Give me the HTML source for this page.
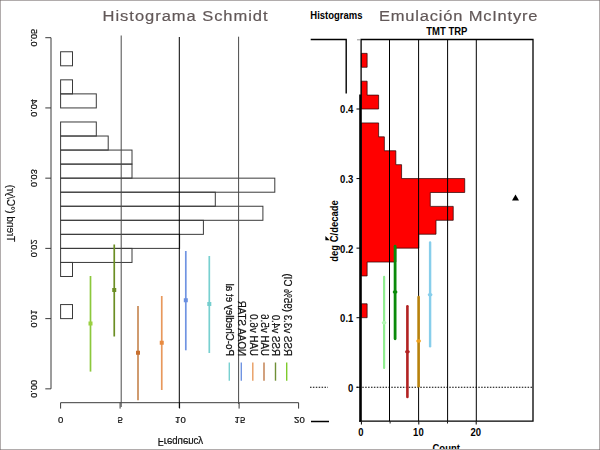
<!DOCTYPE html>
<html><head><meta charset="utf-8"><title>Histograms</title>
<style>
html,body{margin:0;padding:0;background:#fff;}
body{width:600px;height:450px;overflow:hidden;position:relative;font-family:"Liberation Sans",sans-serif;}
svg{position:absolute;left:0;top:0;display:block;}
text{font-family:"Liberation Sans",sans-serif;}
.l{font-size:9.6px;fill:#111;stroke:#111;stroke-width:0.22px;}
.lt{font-size:10px;stroke-width:0.15px;}
.rb{font-size:9.5px;font-weight:bold;fill:#000;}
.t{font-size:15px;fill:#625858;stroke:#625858;stroke-width:0.2px;}
#frame{position:absolute;left:0;top:0;width:598px;height:448px;border:1px solid #b1acac;}
.cn{position:absolute;width:1px;height:1px;background:#8c8787;}
</style></head><body>
<svg width="600" height="450" viewBox="0 0 600 450">
<rect width="600" height="450" fill="#fff"/>
<g fill="none" stroke="#3a3a3a" stroke-width="1">
<path d="M45.3 37.70 H51 V388.85 H45.3"/>
<path d="M45.3 318.62 H51"/>
<path d="M45.3 248.39 H51"/>
<path d="M45.3 178.16 H51"/>
<path d="M45.3 107.93 H51"/>
<path d="M60.60 408.6 V402.7 H298.60 V408.6"/>
<path d="M120.10 402.7 V408.6"/>
<path d="M179.60 402.7 V408.6"/>
<path d="M239.10 402.7 V408.6"/>
<rect x="60.60" y="51.75" width="11.90" height="14.05"/>
<rect x="60.60" y="79.84" width="11.90" height="14.05"/>
<rect x="60.60" y="93.88" width="35.70" height="14.05"/>
<rect x="60.60" y="121.98" width="35.70" height="14.05"/>
<rect x="60.60" y="136.02" width="47.60" height="14.05"/>
<rect x="60.60" y="150.07" width="71.40" height="14.05"/>
<rect x="60.60" y="164.11" width="71.40" height="14.05"/>
<rect x="60.60" y="178.16" width="214.20" height="14.05"/>
<rect x="60.60" y="192.21" width="154.70" height="14.05"/>
<rect x="60.60" y="206.25" width="202.30" height="14.05"/>
<rect x="60.60" y="220.30" width="142.80" height="14.05"/>
<rect x="60.60" y="234.34" width="119.00" height="14.05"/>
<rect x="60.60" y="248.39" width="71.40" height="14.05"/>
<rect x="60.60" y="262.44" width="11.90" height="14.05"/>
<rect x="60.60" y="304.57" width="11.90" height="14.05"/>
</g>
<path stroke="#4a4a4a" stroke-width="1" d="M121.20 35.50 V407.00"/>
<path stroke="#000" stroke-width="1" d="M179.30 37.00 V408.00"/>
<path stroke="#4a4a4a" stroke-width="1" d="M238.60 36.70 V404.00"/>
<path d="M90.50 371.60 V276.00" stroke="#8cc83c" stroke-width="1.7"/>
<rect x="88.50" y="321.50" width="4" height="4" fill="#9ad040"/>
<path d="M114.25 336.50 V244.50" stroke="#6b8e23" stroke-width="1.7"/>
<rect x="112.25" y="288.00" width="4" height="4" fill="#6b8e23"/>
<path d="M138.00 400.20 V306.00" stroke="#c88a56" stroke-width="1.7"/>
<rect x="136.00" y="350.75" width="4" height="4" fill="#c87030"/>
<path d="M161.75 390.00 V296.00" stroke="#e8985c" stroke-width="1.7"/>
<rect x="159.75" y="340.75" width="4" height="4" fill="#e88a40"/>
<path d="M185.80 350.30 V251.00" stroke="#7094e2" stroke-width="1.7"/>
<rect x="183.80" y="298.25" width="4" height="4" fill="#6a8fe0"/>
<path d="M209.30 353.00 V256.00" stroke="#78d0d0" stroke-width="1.7"/>
<rect x="207.30" y="302.00" width="4" height="4" fill="#74cece"/>
<g style="filter:brightness(1)">
<path d="M229.30 362.5 V380.7" stroke="#78d0d0" stroke-width="1.4"/>
<text class="l" style="font-size:9.8px" transform="matrix(0,-1,-1.06,0,229.90,356)" dy="3.4">Po-Chedley et al</text>
<path d="M241.30 362.5 V380.7" stroke="#7094e2" stroke-width="1.4"/>
<text class="l" style="font-size:9.8px" transform="matrix(0,-1,-1.06,0,241.90,356)" dy="3.4">NOAA STAR</text>
<path d="M252.80 362.5 V380.7" stroke="#e89c60" stroke-width="1.4"/>
<text class="l" style="font-size:9.8px" transform="matrix(0,-1,-1.06,0,253.40,356)" dy="3.4">UAH v6.0</text>
<path d="M264.00 362.5 V380.7" stroke="#bf7a48" stroke-width="1.4"/>
<text class="l" style="font-size:9.8px" transform="matrix(0,-1,-1.06,0,264.60,356)" dy="3.4">UAH v5.6</text>
<path d="M275.50 362.5 V380.7" stroke="#6f8f36" stroke-width="1.4"/>
<text class="l" style="font-size:9.8px" transform="matrix(0,-1,-1.06,0,276.10,356)" dy="3.4">RSS v4.0</text>
<path d="M286.70 362.5 V380.7" stroke="#7ecb2c" stroke-width="1.4"/>
<text class="l" style="font-size:9.8px" transform="matrix(0,-1,-1.06,0,287.30,356)" dy="3.4">RSS v3.3 (95% CI)</text>
<text class="l" text-anchor="middle" transform="matrix(0,-0.95,-1.0,0,34.20,388.85)" dy="3.4">0.00</text>
<text class="l" text-anchor="middle" transform="matrix(0,-0.95,-1.0,0,34.20,318.62)" dy="3.4">0.01</text>
<text class="l" text-anchor="middle" transform="matrix(0,-0.95,-1.0,0,34.20,248.39)" dy="3.4">0.02</text>
<text class="l" text-anchor="middle" transform="matrix(0,-0.95,-1.0,0,34.20,178.16)" dy="3.4">0.03</text>
<text class="l" text-anchor="middle" transform="matrix(0,-0.95,-1.0,0,34.20,107.93)" dy="3.4">0.04</text>
<text class="l" text-anchor="middle" transform="matrix(0,-0.95,-1.0,0,34.20,37.70)" dy="3.4">0.05</text>
<text class="l lt" text-anchor="middle" transform="matrix(0,-1,-1,0,10.3,213.3)" dy="3.6">Trend (°C/yr)</text>
<text class="l" text-anchor="middle" transform="matrix(1,0,0,-1.0,60.60,420)" dy="3.4">0</text>
<text class="l" text-anchor="middle" transform="matrix(1,0,0,-1.0,120.10,420)" dy="3.4">5</text>
<text class="l" text-anchor="middle" transform="matrix(1,0,0,-1.0,180.40,420)" dy="3.4">10</text>
<text class="l" text-anchor="middle" transform="matrix(1,0,0,-1.0,239.90,420)" dy="3.4">15</text>
<text class="l" text-anchor="middle" transform="matrix(1,0,0,-1.0,299.40,420)" dy="3.4">20</text>
<text class="l" text-anchor="middle" transform="matrix(1,0,0,-1.05,180.5,441.6)" dy="3.4">Frequency</text>
</g>
<path d="M361.40 53.36 H367.14 V67.27 H361.40 Z" fill="#ff0000" stroke="#200000" stroke-width="0.7"/>
<path d="M361.40 81.19 H367.14 V95.10 H378.62 V109.01 H361.40 Z" fill="#ff0000" stroke="#200000" stroke-width="0.7"/>
<path d="M361.40 122.92 H378.62 V136.83 H384.36 V150.75 H395.84 V164.66 H401.58 V178.57 H464.72 V192.48 H430.28 V206.39 H453.24 V220.31 H436.02 V234.22 H418.80 V248.13 H395.84 V262.04 H367.14 V275.95 H361.40 Z" fill="#ff0000" stroke="#200000" stroke-width="0.7"/>
<path d="M361.40 303.78 H367.14 V317.69 H361.40 Z" fill="#ff0000" stroke="#200000" stroke-width="0.7"/>
<path d="M389.50 39.50 V421.20" stroke="#000" stroke-width="1"/>
<path d="M418.60 39.50 V421.20" stroke="#000" stroke-width="1"/>
<path d="M447.60 39.50 V421.20" stroke="#000" stroke-width="1"/>
<path d="M476.30 39.50 V421.20" stroke="#000" stroke-width="1"/>
<path d="M356.50 387.25 H533.00" stroke="#000" stroke-width="1" stroke-dasharray="1.5 1.4"/>
<path d="M310 387.25 H328" stroke="#000" stroke-width="1" stroke-dasharray="1.5 1.4"/>
<path d="M361.10 421.20 V39.50 H533.00 V421.20 H359.20" fill="none" stroke="#000" stroke-width="1.3"/>
<path d="M360.2 94.5 V421.80" fill="none" stroke="#000" stroke-width="2"/>
<path d="M357 39.8 H360.5" stroke="#777" stroke-width="0.8"/>
<path d="M356.5 387.25 H360" stroke="#000" stroke-width="1"/>
<text class="rb" text-anchor="end" transform="translate(353.30,391.65) scale(1,1.12)">0</text>
<path d="M356.5 317.69 H360" stroke="#000" stroke-width="1"/>
<text class="rb" text-anchor="end" transform="translate(353.30,322.09) scale(1,1.12)">0.1</text>
<path d="M356.5 248.13 H360" stroke="#000" stroke-width="1"/>
<text class="rb" text-anchor="end" transform="translate(353.30,252.53) scale(1,1.12)">0.2</text>
<path d="M356.5 178.57 H360" stroke="#000" stroke-width="1"/>
<text class="rb" text-anchor="end" transform="translate(353.30,182.97) scale(1,1.12)">0.3</text>
<path d="M356.5 109.01 H360" stroke="#000" stroke-width="1"/>
<text class="rb" text-anchor="end" transform="translate(353.30,113.41) scale(1,1.12)">0.4</text>
<path d="M361.40 421.5 V424.5" stroke="#000" stroke-width="1"/>
<text class="rb" text-anchor="middle" transform="translate(361.00,436.30) scale(1,1.12)">0</text>
<path d="M418.80 421.5 V424.5" stroke="#000" stroke-width="1"/>
<text class="rb" text-anchor="middle" transform="translate(418.40,436.30) scale(1,1.12)">10</text>
<path d="M476.20 421.5 V424.5" stroke="#000" stroke-width="1"/>
<text class="rb" text-anchor="middle" transform="translate(475.80,436.30) scale(1,1.12)">20</text>
<path d="M390.10 421.5 V423.5" stroke="#000" stroke-width="0.9"/>
<path d="M447.50 421.5 V423.5" stroke="#000" stroke-width="0.9"/>
<text class="rb" text-anchor="middle" transform="translate(446.20,451.60) scale(1,1.12)">Count</text>
<text class="rb" text-anchor="middle" transform="translate(446.80,34.60) scale(1,1.12)">TMT TRP</text>
<text class="rb" text-anchor="start" transform="translate(310.30,19.10) scale(1,1.12)">Histograms</text>
<text class="rb" text-anchor="middle" transform="translate(337.8,231) rotate(-90) scale(1,1.1)">deg C/decade</text>
<path d="M325.4 236 L329.7 240.2 H325.4 Z" fill="#000"/>
<path d="M310.7 39.5 H346.2 V93.5" fill="none" stroke="#000" stroke-width="1.4"/>
<path d="M311 421.5 H329" fill="none" stroke="#000" stroke-width="1.5"/>
<path d="M384.10 368.00 V276.75" stroke="#90ee90" stroke-width="2.2" stroke-linecap="round"/>
<ellipse cx="384.10" cy="322.75" rx="2.4" ry="1.7" fill="#b4f7b4"/>
<path d="M395.10 338.75 V246.25" stroke="#0a8a0a" stroke-width="2.8" stroke-linecap="round"/>
<ellipse cx="395.10" cy="292.00" rx="2.4" ry="1.7" fill="#0a8a0a"/>
<path d="M407.40 397.00 V306.25" stroke="#b22222" stroke-width="2.6" stroke-linecap="round"/>
<ellipse cx="407.40" cy="351.75" rx="2.4" ry="1.7" fill="#b22222"/>
<path d="M418.60 386.25 V297.00" stroke="#b8820c" stroke-width="2.6" stroke-linecap="round"/>
<ellipse cx="418.60" cy="341.00" rx="2.4" ry="1.7" fill="#f0a21e"/>
<path d="M430.10 346.25 V242.50" stroke="#87ceeb" stroke-width="2.4" stroke-linecap="round"/>
<ellipse cx="430.10" cy="294.75" rx="2.4" ry="1.7" fill="#87ceeb"/>
<path d="M515.5 194.5 L519 200.5 H512 Z" fill="#000"/>
<g style="filter:brightness(1)"><text class="t" transform="translate(102.6,20.6) scale(1.1,1)" textLength="150" lengthAdjust="spacing">Histograma Schmidt</text>
<text class="t" transform="translate(379,20.8) scale(1.1,1)" textLength="144.1" lengthAdjust="spacing">Emulación McIntyre</text></g>
</svg>
<div id="frame"></div>
<div class="cn" style="left:0;top:0"></div><div class="cn" style="left:599px;top:0"></div><div class="cn" style="left:0;top:449px"></div><div class="cn" style="left:599px;top:449px"></div>
</body></html>
